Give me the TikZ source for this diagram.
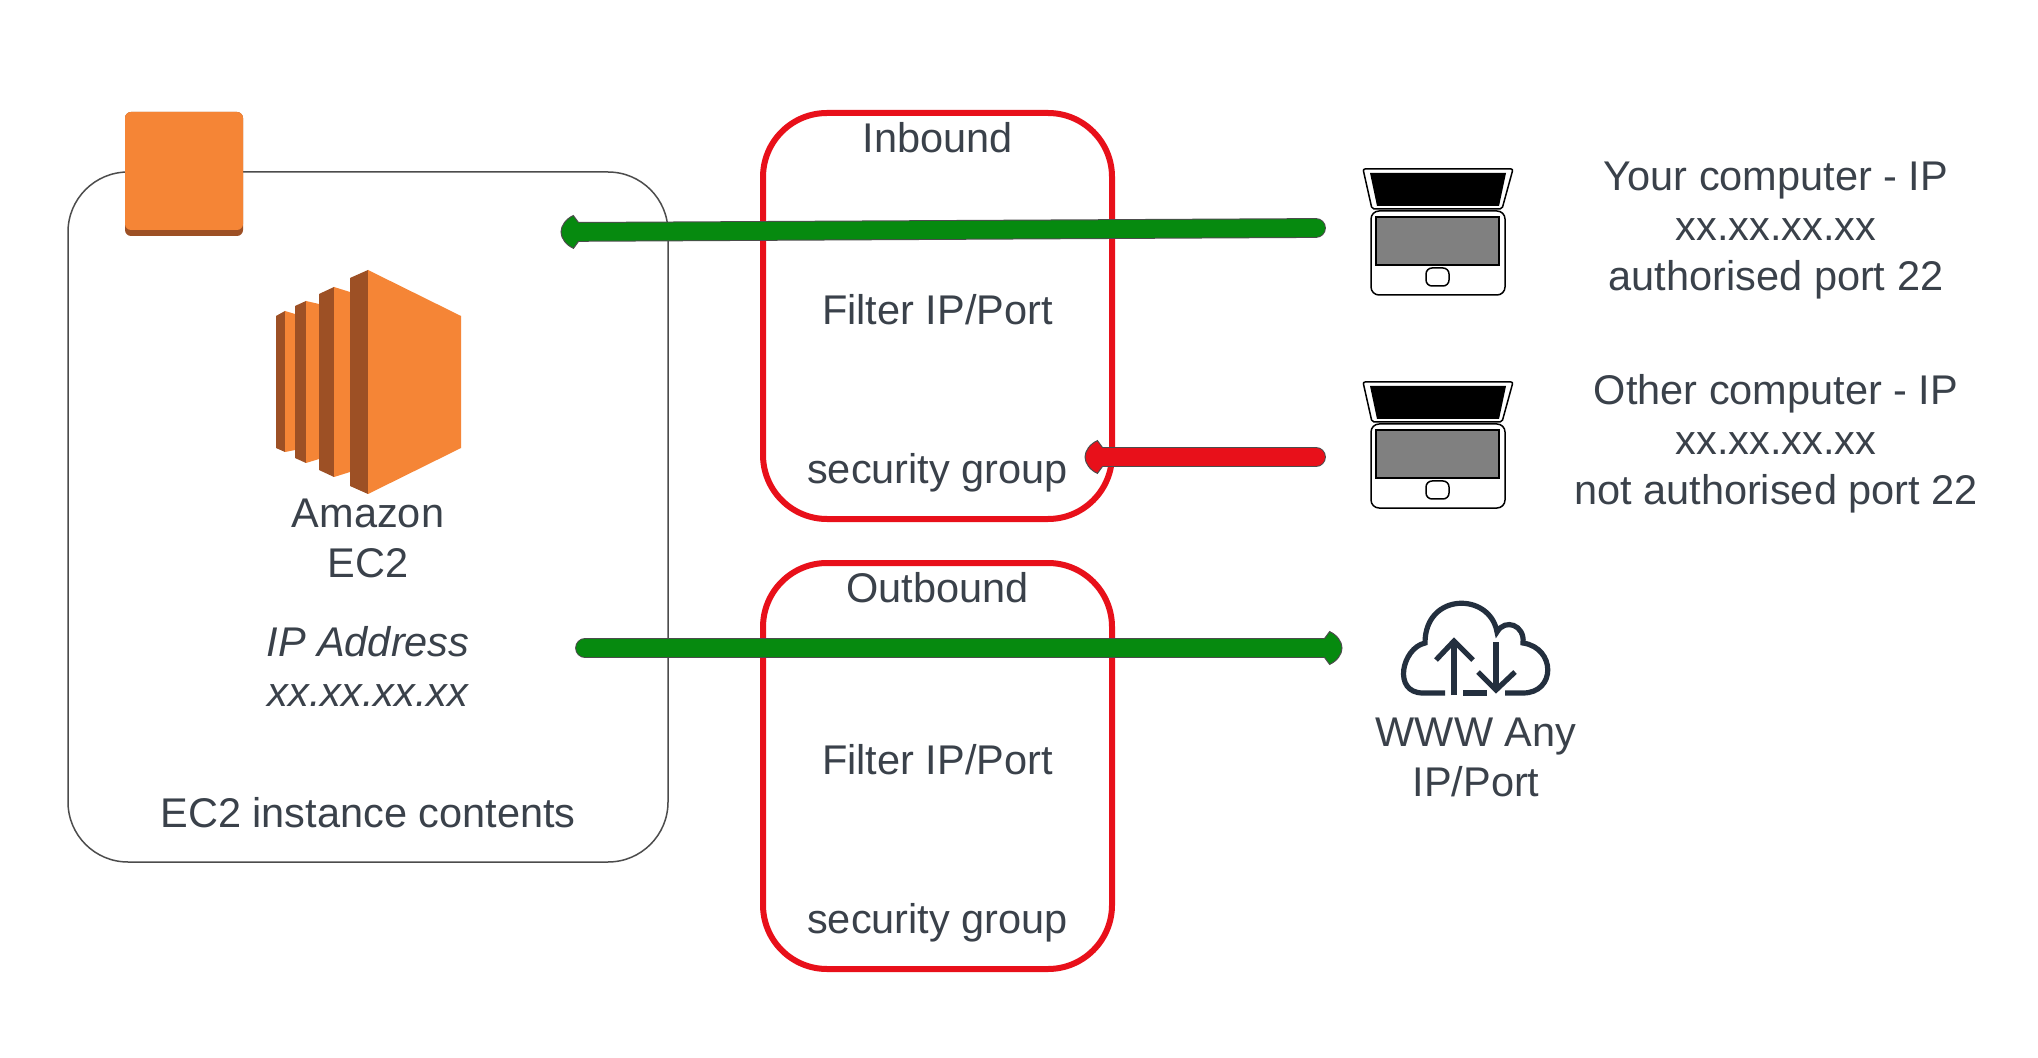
\documentclass[tikz,border=0pt]{standalone}
\usepackage{fontspec}
\setmainfont{Liberation Sans}
\usepackage{tikz}
\usetikzlibrary{arrows.meta,positioning}
\definecolor{inktext}{HTML}{3A414A}
\definecolor{edgegrey}{HTML}{4C4C4C}
\definecolor{awslight}{HTML}{F58536}
\definecolor{awsdark}{HTML}{9D5025}
\definecolor{sgred}{HTML}{E8101A}
\definecolor{flowgreen}{HTML}{068A0F}
\definecolor{cloudink}{HTML}{232F3E}
\pgfdeclarearrow{
  name=Blunthead,
  parameters={\the\pgfarrowlinewidth},
  setup code={\pgfarrowssettipend{0pt}\pgfarrowssetlineend{-7.5pt}%
    \pgfarrowssetvisualbackend{-8.7pt}\pgfarrowssetbackend{-8.7pt}},
  drawing code={
    \pgfsetlinewidth{\pgfarrowlinewidth}
    \pgfpathmoveto{\pgfpoint{-8.7pt}{4.8pt}}
    \pgfpathlineto{\pgfpoint{-6.2pt}{8.2pt}}
    \pgfpathcurveto{\pgfpoint{-2.6pt}{6.6pt}}{\pgfpoint{0pt}{3.2pt}}{\pgfpoint{0pt}{0pt}}
    \pgfpathcurveto{\pgfpoint{0pt}{-3.2pt}}{\pgfpoint{-2.6pt}{-6.6pt}}{\pgfpoint{-6.2pt}{-8.2pt}}
    \pgfpathlineto{\pgfpoint{-8.7pt}{-4.8pt}}
    \pgfusepathqfillstroke
  },
  defaults={}
}
\begin{document}
\begin{tikzpicture}[
  x=.5pt, y=-.5pt,
  lab/.style={text=inktext, align=center, inner sep=0pt,
              font=\fontsize{20.75}{25}\selectfont},
  instbox/.style={draw=edgegrey, line width=.75pt, rounded corners=30pt,
                  minimum width=300pt, minimum height=345pt},
  sgbox/.style={draw=sgred, line width=3pt, rounded corners=32pt,
                minimum width=174.5pt, minimum height=203pt},
  chip/.style={rounded corners=3pt, minimum width=59pt, inner sep=0pt},
  flow/.style={draw=edgegrey, double=#1, double distance=8.9pt, line width=.5pt,
               line cap=round,
               -{Blunthead[fill=#1, color=edgegrey, line width=.5pt]}},
  lidline/.style={draw=black, line width=.75pt, line join=round},
  cloudline/.style={draw=cloudink, line width=2.6pt},
  laptop/.pic={
    \draw[lidline, fill=white, rounded corners=1pt] (-75,-63) -- (75,-63) -- (64,-23) -- (-66,-23) -- cycle;
    \fill[black] (-68,-59) -- (68,-59) -- (61,-26) -- (-61,-26) -- cycle;
    \draw[lidline, fill=white, rounded corners=4pt] (-67,-21) rectangle (67,63);
    \draw[draw=black, line width=1pt, fill=black!50] (-62,-15) rectangle (61,33);
    \draw[lidline, rounded corners=3pt] (-12,36) rectangle (11,54);
  }
]
\useasboundingbox (0,0) rectangle (2038,1058);
\fill[white] (0,0) rectangle (2038,1058);
% instance
\node[instbox] (inst) at (368,517) {};
\node[chip, fill=awsdark, minimum height=62pt] (chipbase) at (184,174) {};
\node[chip, fill=awslight, minimum height=59pt] (chiptop) at (184,171) {};
% EC2 icon
\fill[awsdark] (276,316) -- (285,311) -- (285,452) -- (276,448) -- cycle;
\fill[awslight] (285,311) -- (295,314) -- (295,450) -- (285,452) -- cycle;
\fill[awsdark] (295,306) -- (306,301) -- (306,463) -- (295,458) -- cycle;
\fill[awslight] (306,301) -- (319,304) -- (319,459) -- (306,463) -- cycle;
\fill[awsdark] (319,294) -- (334,287) -- (334,477) -- (319,470) -- cycle;
\fill[awslight] (334,287) -- (350,292) -- (350,472) -- (334,477) -- cycle;
\fill[awsdark] (350,278) -- (368,270) -- (368,494) -- (350,486) -- cycle;
\fill[awslight] (368,270) -- (461,316) -- (461,448) -- (368,494) -- cycle;
\node[lab] (ec2name) at (368,538.5) {Amazon\\EC2};
\node[lab, font=\fontsize{20.75}{25}\selectfont\itshape] (ec2ip) at (368,666) {IP Address\\xx.xx.xx.xx};
\node[lab] (instname) at (368,813) {EC2 instance contents};
% security groups
\node[sgbox] (sgin) at (937.5,316) {};
\node[lab, below=6pt of sgin.north] (sginname) {Inbound};
\node[lab, yshift=3pt] (sginfilter) at (sgin.center) {Filter IP/Port};
\node[lab, above=14.6pt of sgin.south] (sgingroup) {security group};
\node[sgbox] (sgout) at (937.5,766) {};
\node[lab, below=6pt of sgout.north] (sgoutname) {Outbound};
\node[lab, yshift=3pt] (sgoutfilter) at (sgout.center) {Filter IP/Port};
\node[lab, above=14.6pt of sgout.south] (sgoutgroup) {security group};
% computers
\pic at (1438,232) {laptop};
\pic at (1438,445) {laptop};
\node[lab] (yourpc) at (1776,231) {Your computer - IP\\xx.xx.xx.xx\\authorised port 22};
\node[lab] (otherpc) at (1776,444) {Other computer - IP\\xx.xx.xx.xx\\not authorised port 22};
% cloud
\draw[cloudline] (1445,693) -- (1423,693) .. controls (1392,693) and (1402,648) .. (1425,643)
  .. controls (1425,592) and (1490,592) .. (1497,632)
  .. controls (1505,618) and (1525,625) .. (1523,643)
  .. controls (1556,648) and (1556,693) .. (1523,693) -- (1505,693);
\draw[cloudline] (1463,693) -- (1487,693);
\draw[cloudline] (1454,695) -- (1454,642);
\draw[cloudline, line join=miter] (1436,660) -- (1454,641) -- (1473,660);
\draw[cloudline] (1496,642) -- (1496,689);
\draw[cloudline, line join=miter] (1478,672) -- (1496,690) -- (1515,672);
\node[lab] (www) at (1476,757) {WWW Any\\IP/Port};
% flows
\coordinate (inopen) at (1316,228);
\coordinate (inend) at (561,232);
\coordinate (denyopen) at (1316,457);
\coordinate (denyend) at (1085,457);
\coordinate (outopen) at (585,648);
\coordinate (outend) at (1342,648);
\draw[flow=flowgreen] (inopen) -- (inend);
\draw[flow=sgred] (denyopen) -- (denyend);
\draw[flow=flowgreen] (outopen) -- (outend);
\end{tikzpicture}
\end{document}
